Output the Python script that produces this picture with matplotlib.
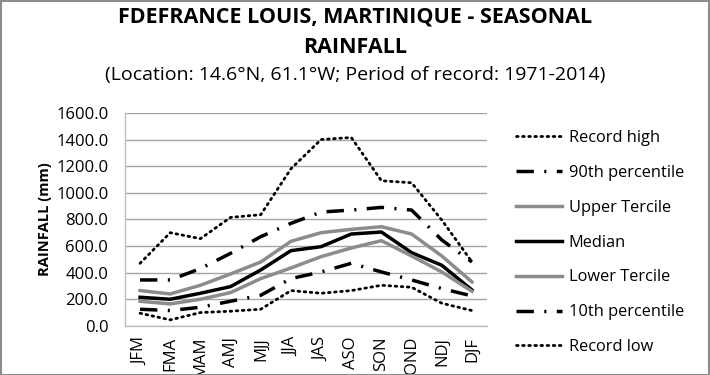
import matplotlib.pyplot as plt

plt.rcParams['font.family'] = ['Open Sans', 'DejaVu Sans']

seasons = ['JFM', 'FMA', 'MAM', 'AMJ', 'MJJ', 'JJA', 'JAS', 'ASO', 'SON', 'OND', 'NDJ', 'DJF']
record_high = [470, 700, 655, 815, 835, 1180, 1400, 1415, 1090, 1075, 795, 480]
p90 = [345, 345, 430, 545, 670, 770, 855, 870, 890, 870, 645, 480]
upper_tercile = [265, 240, 305, 390, 480, 635, 700, 725, 745, 690, 525, 330]
median = [215, 200, 245, 295, 420, 565, 595, 690, 705, 550, 455, 270]
lower_tercile = [185, 165, 200, 250, 355, 435, 520, 585, 640, 525, 405, 260]
p10 = [125, 115, 140, 185, 230, 355, 405, 470, 405, 345, 280, 225]
record_low = [95, 45, 100, 110, 125, 265, 245, 265, 305, 290, 170, 115]

fig = plt.figure(figsize=(7.1, 3.75), dpi=100)
ax = fig.add_axes([0.176, 0.131, 0.51, 0.568])

x = range(len(seasons))
dot = (0, (0.6, 1.6))
dashdot = (0, (5, 3, 0.6, 3))
grey = '#8c8c8c'
ax.plot(x, record_high, color='black', lw=2, linestyle=dot, dash_capstyle='round', label='Record high')
ax.plot(x, p90, color='black', lw=2.5, linestyle=dashdot, label='90th percentile')
ax.plot(x, upper_tercile, color=grey, lw=2.5, label='Upper Tercile')
ax.plot(x, median, color='black', lw=2.5, label='Median')
ax.plot(x, lower_tercile, color=grey, lw=2.5, label='Lower Tercile')
ax.plot(x, p10, color='black', lw=2.5, linestyle=dashdot, label='10th percentile')
ax.plot(x, record_low, color='black', lw=2, linestyle=dot, dash_capstyle='round', label='Record low')

ax.set_xlim(-0.5, len(seasons) - 0.5)
ax.set_ylim(0, 1600)
ax.set_yticks(range(0, 1601, 200))
ax.set_yticklabels([f'{v:.1f}' for v in range(0, 1601, 200)], fontsize=12)
ax.set_xticks(list(x))
ax.set_xticklabels(seasons, rotation=90, fontsize=12)
ax.tick_params(axis='y', length=0, pad=12)
ax.tick_params(axis='x', length=0, pad=8)
ax.grid(axis='y', color='#a6a6a6', lw=1)
ax.set_axisbelow(True)
for s in ['top', 'right']:
    ax.spines[s].set_visible(False)
for s in ['left', 'bottom']:
    ax.spines[s].set_color('#bfbfbf')
    ax.spines[s].set_linewidth(1)
ax.set_ylabel('RAINFALL (mm)', fontsize=10.5, fontweight='bold', labelpad=3)

fig.text(0.5, 0.955, 'FDEFRANCE LOUIS, MARTINIQUE - SEASONAL', ha='center', va='center',
         fontsize=15.5, fontweight='bold')
fig.text(0.5, 0.873, 'RAINFALL', ha='center', va='center', fontsize=15.5, fontweight='bold')
fig.text(0.5, 0.8, '(Location: 14.6°N, 61.1°W; Period of record: 1971-2014)', ha='center',
         va='center', fontsize=14)

fig.legend(loc='center left', bbox_to_anchor=(0.718, 0.353), frameon=False, fontsize=11.8,
           handlelength=2.8, labelspacing=1.15, handletextpad=0.4, borderaxespad=0)

fig.patches.append(plt.Rectangle((0.001, 0.001), 0.997, 0.997, transform=fig.transFigure,
                                 fill=False, edgecolor='#8c8c8c', lw=1.5))
fig.savefig('out.png', dpi=100)
